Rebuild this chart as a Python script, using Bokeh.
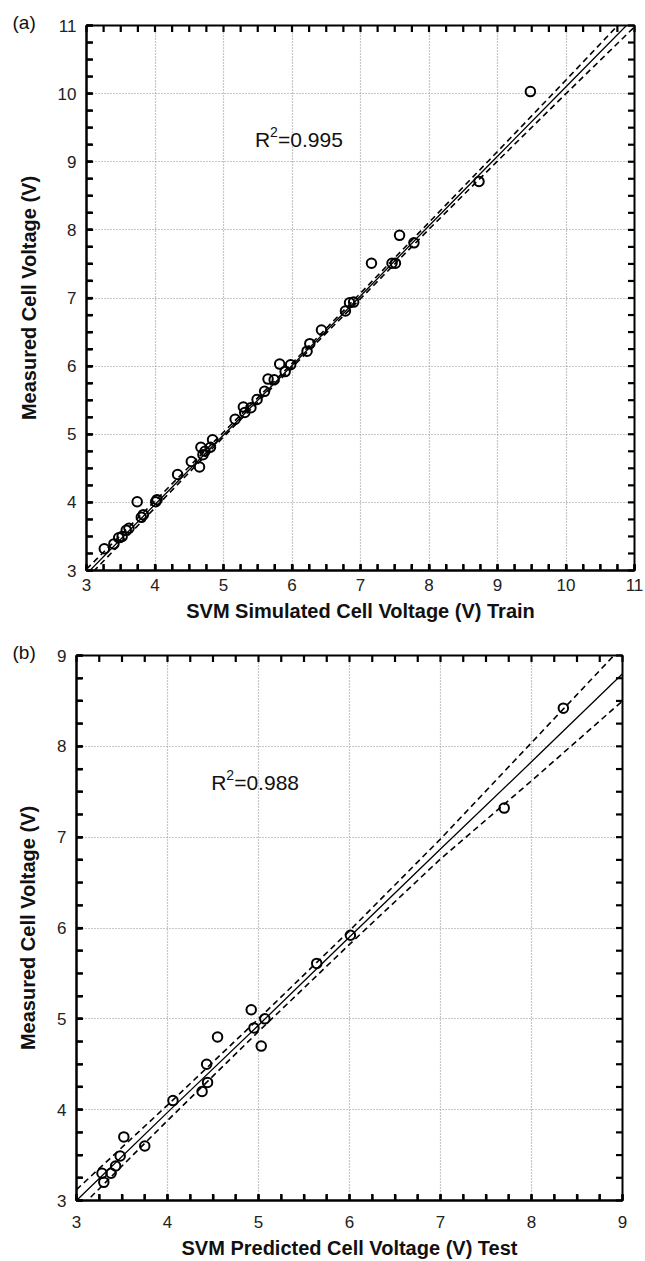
import numpy as np
from bokeh.plotting import figure
from bokeh.models import Range1d, LinearAxis, SingleIntervalTicker, Label, Title
from bokeh.layouts import column, row
from bokeh.embed import file_html
from bokeh.resources import INLINE

# ---------------- data: (a) training set ----------------
train_sim = [3.26, 3.40, 3.47, 3.52, 3.58, 3.62, 3.74, 3.80, 3.83, 4.01, 4.03, 4.33,
             4.53, 4.65, 4.67, 4.70, 4.73, 4.81, 4.84, 5.17, 5.29, 5.31, 5.40, 5.49,
             5.60, 5.65, 5.74, 5.82, 5.90, 5.98, 6.22, 6.26, 6.43, 6.78, 6.84, 6.90,
             7.16, 7.46, 7.51, 7.57, 7.78, 8.73, 9.48]
train_meas = [3.32, 3.39, 3.48, 3.50, 3.59, 3.62, 4.01, 3.78, 3.82, 4.01, 4.04, 4.41,
              4.60, 4.52, 4.81, 4.70, 4.75, 4.81, 4.92, 5.22, 5.40, 5.32, 5.39, 5.51,
              5.63, 5.81, 5.80, 6.03, 5.92, 6.02, 6.22, 6.33, 6.53, 6.81, 6.93, 6.94,
              7.51, 7.51, 7.51, 7.92, 7.81, 8.71, 10.03]
train_line_x = [3, 4, 5, 6, 7, 8, 9, 10, 11]
train_fit = [2.95, 3.97, 4.99, 6.01, 7.03, 8.06, 9.08, 10.10, 11.12]
train_upper = [3.02, 4.02, 5.03, 6.04, 7.07, 8.11, 9.15, 10.20, 11.26]
train_lower = [2.88, 3.92, 4.96, 5.98, 6.99, 8.01, 9.01, 10.00, 10.98]

# ---------------- data: (b) test set ----------------
test_pred = [3.28, 3.30, 3.38, 3.43, 3.48, 3.52, 3.75, 4.06, 4.38, 4.44, 4.43, 4.55,
             4.92, 4.95, 5.03, 5.07, 5.64, 6.01, 7.70, 8.35]
test_meas = [3.30, 3.20, 3.30, 3.38, 3.49, 3.70, 3.60, 4.10, 4.20, 4.30, 4.50, 4.80,
             5.10, 4.90, 4.70, 5.00, 5.61, 5.92, 7.32, 8.42]
test_line_x = [3, 4, 5, 6, 7, 8, 9]
test_fit = [3.00, 3.97, 4.93, 5.90, 6.87, 7.83, 8.80]
test_upper = [3.12, 4.05, 5.00, 5.97, 6.98, 8.04, 9.10]
test_lower = [2.88, 3.88, 4.86, 5.82, 6.76, 7.62, 8.50]

FONT = "Liberation Sans"


def make_panel(xs, ys, lx, fit, up, lo, lim, xlabel, tag, r2_text, r2_x, r2_y,
               left, fw, right, top, fh, bottom, x_standoff):
    p = figure(frame_width=fw, frame_height=fh, min_border_left=left,
               min_border_right=right, min_border_top=top, min_border_bottom=bottom,
               x_range=Range1d(lim[0], lim[1]), y_range=Range1d(lim[0], lim[1]),
               output_backend="svg", toolbar_location=None,
               x_axis_location=None, y_axis_location=None,
               background_fill_color=None, border_fill_color="white")
    p.outline_line_color = "black"
    p.outline_line_width = 2

    p.add_layout(Title(text=tag, align="left", offset=-(left - 12), standoff=-14,
                       text_font=FONT, text_font_size="19px", text_font_style="normal",
                       text_color="#111111"), "above")

    def ticker():
        return SingleIntervalTicker(interval=1, num_minor_ticks=4)

    axes = {
        "below": LinearAxis(ticker=ticker(), axis_label=xlabel),
        "left": LinearAxis(ticker=ticker(), axis_label="Measured Cell Voltage (V)"),
    }
    for loc, ax in axes.items():
        ax.axis_line_color = "black"
        ax.axis_line_width = 2
        ax.major_tick_in = 6
        ax.major_tick_out = 0
        ax.minor_tick_in = 6
        ax.minor_tick_out = 0
        ax.major_tick_line_color = "black"
        ax.minor_tick_line_color = "black"
        ax.major_tick_line_width = 2
        ax.minor_tick_line_width = 2
        ax.major_label_text_font = FONT
        ax.major_label_text_font_size = "17px"
        ax.major_label_text_color = "#222222"
        ax.axis_label_text_font = FONT
        ax.axis_label_text_font_size = "20px"
        ax.axis_label_text_font_style = "bold"
        ax.axis_label_text_color = "#111111"
        if loc == "below":
            ax.major_label_standoff = x_standoff
            ax.axis_label_standoff = 6
        else:
            ax.major_label_standoff = 10
            ax.axis_label_standoff = 15
        p.add_layout(ax, loc)

    p.xgrid.ticker = ticker()
    p.ygrid.ticker = ticker()
    for g in (p.xgrid, p.ygrid):
        g.grid_line_color = "#8f8f8f"
        g.grid_line_dash = "1 2"
        g.grid_line_width = 1.2

    # inward tick marks along all four frame edges (every 0.25 unit)
    tpos = np.arange(lim[0], lim[1] + 1e-9, 0.25)
    tx = 6.5 * (lim[1] - lim[0]) / fw
    ty = 6.5 * (lim[1] - lim[0]) / fh
    lo_ = np.full_like(tpos, float(lim[0]))
    hi_ = np.full_like(tpos, float(lim[1]))
    for x0, y0, x1, y1 in ((tpos, lo_, tpos, lo_ + ty), (tpos, hi_, tpos, hi_ - ty),
                           (lo_, tpos, lo_ + tx, tpos), (hi_, tpos, hi_ - tx, tpos)):
        p.segment(x0=x0, y0=y0, x1=x1, y1=y1, line_color="black", line_width=2.2,
                  level="overlay")

    p.line(lx, fit, line_color="black", line_width=1.3)
    p.line(lx, up, line_color="black", line_width=1.6, line_dash="6 4")
    p.line(lx, lo, line_color="black", line_width=1.6, line_dash="6 4")
    p.scatter(xs, ys, marker="circle", size=9.5, fill_color=None,
              line_color="black", line_width=2.0)

    p.add_layout(Label(x=r2_x, y=r2_y, text="R", text_font=FONT, text_font_size="21px",
                       text_baseline="alphabetic", text_color="#111111"))
    p.add_layout(Label(x=r2_x, y=r2_y, x_offset=15, y_offset=8, text="2", text_font=FONT,
                       text_font_size="14px", text_baseline="alphabetic", text_color="#111111"))
    p.add_layout(Label(x=r2_x, y=r2_y, x_offset=23, text=r2_text, text_font=FONT,
                       text_font_size="21px", text_baseline="alphabetic", text_color="#111111"))
    return p


p1 = make_panel(train_sim, train_meas, train_line_x, train_fit, train_upper, train_lower,
                (3, 11), "SVM Simulated Cell Voltage (V) Train", "(a)", "=0.995", 5.46, 9.32,
                left=86, fw=548, right=11, top=25, fh=545, bottom=60, x_standoff=8)
p2 = make_panel(test_pred, test_meas, test_line_x, test_fit, test_upper, test_lower,
                (3, 9), "SVM Predicted Cell Voltage (V) Test", "(b)", "=0.988", 4.48, 7.6,
                left=76, fw=546, right=23, top=25, fh=545, bottom=61, x_standoff=15)

layout = column(row(p1), row(p2), spacing=0)
open("out.html", "w").write(file_html(layout, INLINE))
